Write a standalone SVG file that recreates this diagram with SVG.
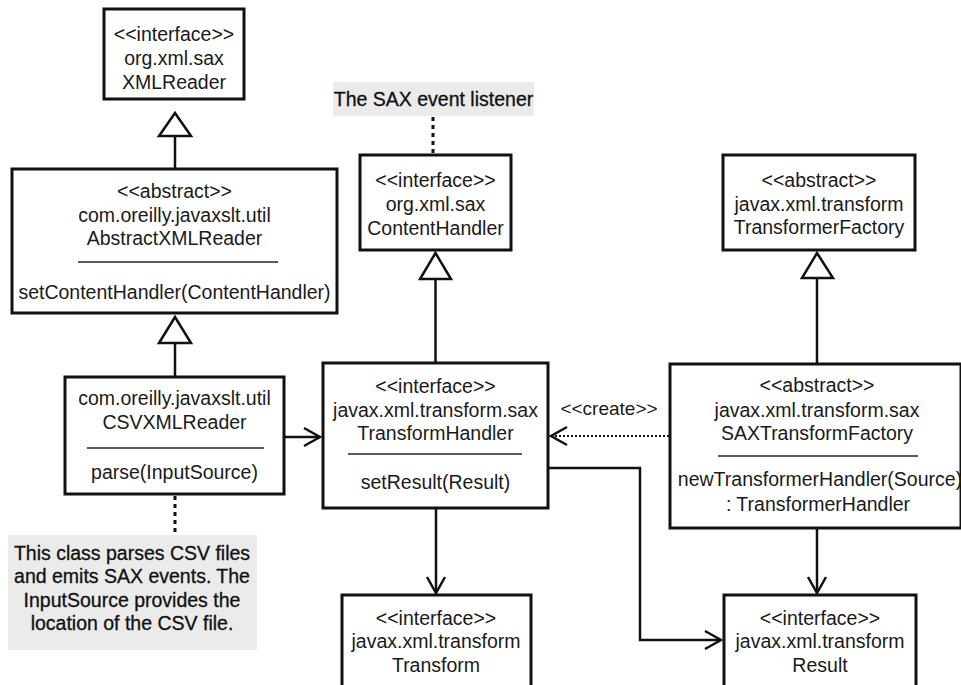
<svg xmlns="http://www.w3.org/2000/svg" width="961" height="685" viewBox="0 0 961 685">
  <style>
    .box { fill: #fff; stroke: #111; stroke-width: 3; }
    .sep { stroke: #222; stroke-width: 1.5; }
    .t { font-family: "Liberation Sans", Arial, sans-serif; font-size: 19.5px; fill: #1a1a1a; text-anchor: middle; }
    .nt { font-family: "Liberation Sans", Arial, sans-serif; font-size: 19.5px; fill: #111; text-anchor: middle; stroke: #111; stroke-width: 0.3; }
    .note { fill: #ebebeb; stroke: none; }
    .line { fill: none; stroke: #111; stroke-width: 2.5; }
    .dot { fill: none; stroke: #111; stroke-width: 2; stroke-dasharray: 2 2; }
    .ndot { fill: none; stroke: #111; stroke-width: 3; stroke-dasharray: 4 4; }
    .tri { fill: #fff; stroke: #111; stroke-width: 2.5; stroke-linejoin: miter; }
  </style>
  <defs>
    <marker id="open" markerUnits="userSpaceOnUse" markerWidth="26" markerHeight="26" viewBox="0 0 26 26" refX="21" refY="13" orient="auto">
      <path d="M5,4 L21,13 L5,22" fill="none" stroke="#111" stroke-width="2.5"/>
    </marker>
  </defs>
  <rect width="961" height="685" fill="#fff"/>

  <g id="connectors">
    <!-- generalizations -->
    <line class="line" x1="175" y1="136" x2="175" y2="169"/>
    <polygon class="tri" points="175,113 159,136 191,136"/>
    <line class="line" x1="175" y1="343" x2="175" y2="377"/>
    <polygon class="tri" points="175,317 159,343 191,343"/>
    <line class="line" x1="435.5" y1="279" x2="435.5" y2="363"/>
    <polygon class="tri" points="435.5,253 420,279 451,279"/>
    <line class="line" x1="817" y1="278" x2="817" y2="364"/>
    <polygon class="tri" points="817,253 802,278 833,278"/>
    <!-- associations -->
    <line class="line" x1="285" y1="437" x2="320" y2="437" marker-end="url(#open)"/>
    <line class="line" x1="436" y1="509" x2="436" y2="593" marker-end="url(#open)"/>
    <polyline class="line" points="549,468 640,468 640,640 721,640" marker-end="url(#open)"/>
    <line class="line" x1="817" y1="529" x2="817" y2="593" marker-end="url(#open)"/>
    <line class="dot" x1="669" y1="436" x2="551" y2="436" marker-end="url(#open)"/>
    <text class="t" x="609" y="415" style="font-size:19px">&lt;&lt;create&gt;&gt;</text>
    <!-- note links -->
    <line class="ndot" x1="433" y1="117" x2="433" y2="154"/>
    <line class="ndot" x1="175" y1="496" x2="175" y2="535"/>
  </g>

  <g id="XMLReader">
    <rect class="box" x="104" y="9" width="140" height="90"/>
    <text class="t" x="174" y="41">&lt;&lt;interface&gt;&gt;</text>
    <text class="t" x="174" y="65">org.xml.sax</text>
    <text class="t" x="174" y="89">XMLReader</text>
  </g>

  <g id="AbstractXMLReader">
    <rect class="box" x="12" y="169" width="325" height="144"/>
    <text class="t" x="174.5" y="198">&lt;&lt;abstract&gt;&gt;</text>
    <text class="t" x="174.5" y="222">com.oreilly.javaxslt.util</text>
    <text class="t" x="174.5" y="245">AbstractXMLReader</text>
    <line class="sep" x1="78" y1="262" x2="278" y2="262"/>
    <text class="t" x="174.5" y="299">setContentHandler(ContentHandler)</text>
  </g>

  <g id="CSVXMLReader">
    <rect class="box" x="65" y="377" width="219" height="117"/>
    <text class="t" x="174.5" y="405">com.oreilly.javaxslt.util</text>
    <text class="t" x="174.5" y="429">CSVXMLReader</text>
    <line class="sep" x1="87" y1="448" x2="264" y2="448"/>
    <text class="t" x="174.5" y="479">parse(InputSource)</text>
  </g>

  <g id="csvNote">
    <rect class="note" x="8" y="535" width="249" height="115"/>
    <text class="nt" x="132" y="560">This class parses CSV files</text>
    <text class="nt" x="132" y="583">and emits SAX events. The</text>
    <text class="nt" x="132" y="607">InputSource provides the</text>
    <text class="nt" x="132" y="630">location of the CSV file.</text>
  </g>

  <g id="saxNote">
    <rect class="note" x="333" y="82" width="201" height="34"/>
    <text class="nt" x="433.5" y="106">The SAX event listener</text>
  </g>

  <g id="ContentHandler">
    <rect class="box" x="360" y="155" width="151" height="95"/>
    <text class="t" x="435.5" y="187">&lt;&lt;interface&gt;&gt;</text>
    <text class="t" x="435.5" y="211">org.xml.sax</text>
    <text class="t" x="435.5" y="235">ContentHandler</text>
  </g>

  <g id="TransformHandler">
    <rect class="box" x="323" y="363" width="225" height="145"/>
    <text class="t" x="435.5" y="393">&lt;&lt;interface&gt;&gt;</text>
    <text class="t" x="435.5" y="417">javax.xml.transform.sax</text>
    <text class="t" x="435.5" y="440">TransformHandler</text>
    <line class="sep" x1="348" y1="454" x2="522" y2="454"/>
    <text class="t" x="435.5" y="489">setResult(Result)</text>
  </g>

  <g id="Transform">
    <rect class="box" x="342" y="595" width="189" height="110"/>
    <text class="t" x="436" y="625">&lt;&lt;interface&gt;&gt;</text>
    <text class="t" x="436" y="648">javax.xml.transform</text>
    <text class="t" x="436" y="672">Transform</text>
  </g>

  <g id="TransformerFactory">
    <rect class="box" x="723" y="155" width="192" height="95"/>
    <text class="t" x="819" y="187">&lt;&lt;abstract&gt;&gt;</text>
    <text class="t" x="819" y="211">javax.xml.transform</text>
    <text class="t" x="819" y="234">TransformerFactory</text>
  </g>

  <g id="SAXTransformFactory">
    <rect class="box" x="670" y="364" width="291" height="164"/>
    <text class="t" x="817" y="392">&lt;&lt;abstract&gt;&gt;</text>
    <text class="t" x="817" y="417">javax.xml.transform.sax</text>
    <text class="t" x="817" y="440">SAXTransformFactory</text>
    <line class="sep" x1="718" y1="456" x2="918" y2="456"/>
    <text class="t" x="820" y="486">newTransformerHandler(Source)</text>
    <text class="t" x="818" y="511">: TransformerHandler</text>
  </g>

  <g id="Result">
    <rect class="box" x="724" y="595" width="192" height="110"/>
    <text class="t" x="820" y="625">&lt;&lt;interface&gt;&gt;</text>
    <text class="t" x="820" y="648">javax.xml.transform</text>
    <text class="t" x="820" y="672">Result</text>
  </g>
</svg>
